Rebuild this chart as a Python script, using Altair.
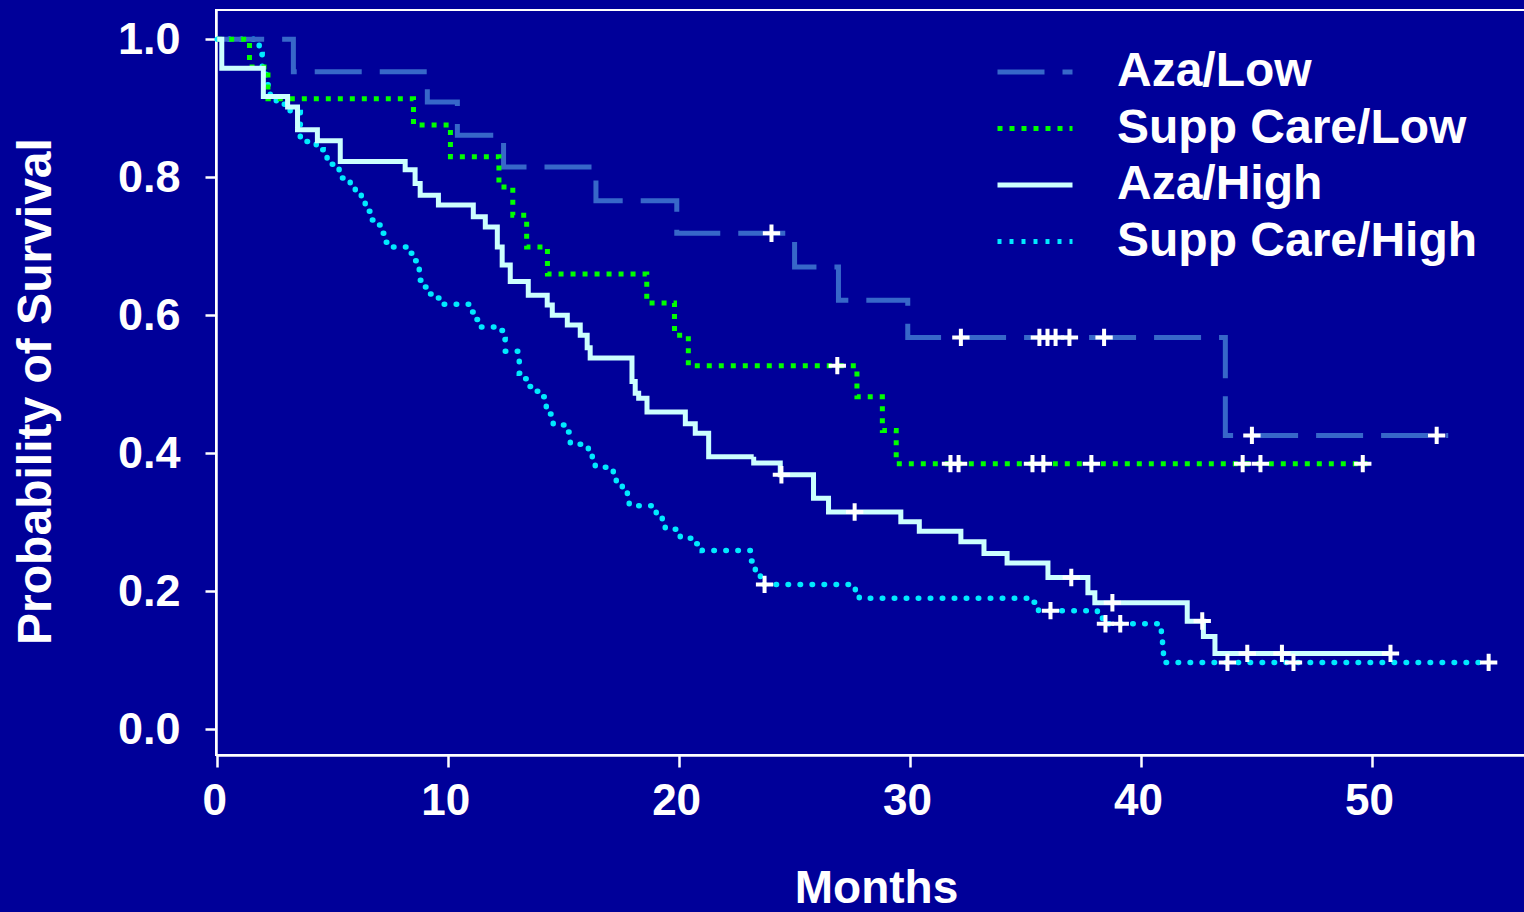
import altair as alt
import pandas as pd
import jinja2

# ---------------- data ----------------
series_names = ["Aza/Low", "Supp Care/Low", "Aza/High", "Supp Care/High"]
series_colors = ["#3767c9", "#00ff00", "#ccffff", "#00eaff"]
series_dashes = [[47, 18], [5, 7], [1, 0], [4, 8]]

aza_low_t = [0, 3.3, 9.1, 10.4, 12.4, 16.4, 19.9, 25.0, 26.9, 29.9, 43.65, 53.3]
aza_low_s = [1.0, 0.953, 0.909, 0.861, 0.815, 0.766, 0.719, 0.670, 0.622, 0.568, 0.426, 0.426]

supp_low_t = [0, 1.4, 2.2, 8.5, 10.1, 12.2, 12.8, 13.4, 14.3, 18.6, 19.8, 20.4, 27.7, 28.8, 29.4, 49.8]
supp_low_s = [1.0, 0.96, 0.914, 0.876, 0.83, 0.786, 0.745, 0.699, 0.66, 0.618, 0.571, 0.527,
              0.482, 0.433, 0.385, 0.385]

aza_high_t = [0, 0.2, 2.0, 3.05, 3.48, 4.34, 5.33, 8.14, 8.57, 8.79, 9.58, 11.09, 11.61, 12.13,
              12.34, 12.69, 13.47, 14.29, 14.51, 15.16, 15.72, 16.02, 16.15, 17.96, 18.10, 18.25,
              18.61, 20.27, 20.70, 21.28, 23.23, 24.38, 25.82, 26.47, 29.6, 30.4, 32.2, 33.2,
              34.2, 35.97, 37.7, 38.0, 42.0, 42.7, 43.2, 50.8]
aza_high_s = [1.0, 0.958, 0.917, 0.902, 0.869, 0.853, 0.823, 0.811, 0.791, 0.774, 0.760, 0.743,
              0.728, 0.699, 0.673, 0.649, 0.629, 0.615, 0.600, 0.586, 0.571, 0.553, 0.538, 0.504,
              0.487, 0.480, 0.460, 0.443, 0.429, 0.395, 0.386, 0.369, 0.335, 0.315, 0.301, 0.287,
              0.272, 0.255, 0.241, 0.220, 0.198, 0.1835, 0.1565, 0.1345, 0.11, 0.11]

supp_high_t = [0, 1.82, 1.95, 2.12, 2.30, 2.56, 3.16, 3.6, 4.29, 4.59, 4.76, 5.11, 5.28, 5.76,
               5.98, 6.24, 6.41, 6.63, 6.97, 7.10, 7.28, 7.54, 8.27, 8.45, 8.62, 8.75, 8.88,
               9.09, 9.44, 9.70, 10.91, 11.13, 11.35, 12.17, 12.39, 12.47, 13.04, 13.08, 13.21,
               13.43, 13.77, 14.12, 14.25, 14.38, 14.55, 15.2, 15.29, 16.07, 16.24, 16.37,
               17.15, 17.28, 17.54, 17.76, 17.84, 19.01, 19.27, 19.40, 20.05, 20.74, 21.0,
               23.13, 23.30, 23.52, 23.65, 27.63, 27.80, 35.21, 35.56, 38.11, 38.33, 40.88,
               40.93, 40.97, 55.1]
supp_high_s = [1.0, 0.978, 0.956, 0.934, 0.912, 0.906, 0.894, 0.852, 0.840, 0.832, 0.819, 0.813,
               0.799, 0.783, 0.776, 0.763, 0.751, 0.738, 0.731, 0.719, 0.706, 0.699, 0.690,
               0.679, 0.669, 0.651, 0.641, 0.631, 0.625, 0.616, 0.605, 0.594, 0.583, 0.578,
               0.565, 0.548, 0.534, 0.516, 0.508, 0.497, 0.490, 0.482, 0.467, 0.457, 0.441,
               0.431, 0.413, 0.406, 0.394, 0.380, 0.373, 0.358, 0.351, 0.341, 0.324, 0.313,
               0.305, 0.290, 0.277, 0.269, 0.259, 0.244, 0.231, 0.221, 0.210, 0.202, 0.190,
               0.184, 0.172, 0.168, 0.153, 0.138, 0.121, 0.097, 0.097]

# censored observations (+)
aza_low_cens_t = [24.0, 32.2, 35.6, 35.95, 36.3, 36.9, 38.4, 44.8, 52.8]
aza_low_cens_s = [0.719, 0.568, 0.568, 0.568, 0.568, 0.568, 0.568, 0.426, 0.426]
supp_low_cens_t = [26.85, 31.75, 32.1, 35.3, 35.77, 37.85, 44.4, 45.17, 49.6]
supp_low_cens_s = [0.527, 0.385, 0.385, 0.385, 0.385, 0.385, 0.385, 0.385, 0.385]
aza_high_cens_t = [24.43, 27.6, 36.98, 38.76, 42.65, 44.6, 46.1, 50.8]
aza_high_cens_s = [0.369, 0.315, 0.220, 0.1835, 0.157, 0.11, 0.11, 0.11]
supp_high_cens_t = [23.7, 36.08, 38.46, 39.1, 43.74, 46.6, 55.05]
supp_high_cens_s = [0.210, 0.172, 0.153, 0.153, 0.097, 0.097, 0.097]

x_ticks = [0, 10, 20, 30, 40, 50]
y_ticks = [0.0, 0.2, 0.4, 0.6, 0.8, 1.0]

# ---------------- tables ----------------
def table(name, t, s):
    return pd.DataFrame({"series": name, "t": t, "s": s})

lines3 = pd.concat([
    table("Aza/Low", aza_low_t, aza_low_s),
    table("Supp Care/Low", supp_low_t, supp_low_s),
    table("Aza/High", aza_high_t, aza_high_s),
], ignore_index=True)
line_cyan = table("Supp Care/High", supp_high_t, supp_high_s)
cens = pd.concat([
    table("Aza/Low", aza_low_cens_t, aza_low_cens_s),
    table("Supp Care/Low", supp_low_cens_t, supp_low_cens_s),
    table("Aza/High", aza_high_cens_t, aza_high_cens_s),
    table("Supp Care/High", supp_high_cens_t, supp_high_cens_s),
], ignore_index=True)

W, H = 1320, 745
xscale = alt.Scale(domain=[-0.05, 57.1], nice=False, zero=False)
yscale = alt.Scale(domain=[-0.0372, 1.0425], nice=False, zero=False)

x_axis = alt.Axis(values=x_ticks, format="d", labelFontSize=44, tickSize=12, labelPadding=12,
                  labelOffset=-3, titleFontSize=46, titlePadding=43, labelFlush=False, grid=False)
y_axis = alt.Axis(values=y_ticks, format=".1f", labelFontSize=45, tickSize=11, labelPadding=25,
                  titleFontSize=48, titlePadding=57, grid=False, titleY=381)

legend = alt.Legend(title=None, orient="none", legendX=795, legendY=38,
                    symbolType="M-2,0L2,0", symbolSize=1406.25, symbolStrokeWidth=5,
                    symbolOpacity=1, labelFontSize=48, labelFontWeight="bold",
                    labelColor="white", labelFont="Liberation Sans", labelOffset=58,
                    rowPadding=8.5, padding=0, labelLimit=600)

X = alt.X("t:Q", scale=xscale, axis=x_axis, title="Months")
Y = alt.Y("s:Q", scale=yscale, axis=y_axis, title="Probability of Survival")

cyan_layer = alt.Chart(line_cyan).mark_line(
    interpolate="step-after", strokeWidth=5.5, strokeCap="round",
    strokeDash=[0.5, 11.5], color=series_colors[3]
).encode(x=X, y=Y)

main_layer = alt.Chart(lines3).mark_line(
    interpolate="step-after", strokeWidth=5, strokeCap="butt"
).encode(
    x=X, y=Y,
    color=alt.Color("series:N", scale=alt.Scale(domain=series_names, range=series_colors),
                    legend=legend, sort=series_names),
    strokeDash=alt.StrokeDash("series:N", scale=alt.Scale(domain=series_names, range=series_dashes),
                              legend=legend, sort=series_names),
)

cens_layer = alt.Chart(cens).mark_point(
    shape="M-1,0L1,0M0,-1L0,1", size=300, filled=False, strokeWidth=4,
    color="white", opacity=1
).encode(x=X, y=Y)

chart = alt.layer(cyan_layer, main_layer, cens_layer).properties(
    width=W, height=H,
    autosize=alt.AutoSizeParams(type="none"),
    padding={"left": 208, "top": 2, "right": 0, "bottom": 170},
).configure(
    background="#000099", font="Liberation Sans"
).configure_view(
    stroke="white", strokeWidth=2
).configure_axis(
    domainColor="white", domainWidth=2.5, tickColor="white", tickWidth=2.5,
    labelColor="white", titleColor="white", labelFontWeight="bold", titleFontWeight="bold",
    labelFont="Liberation Sans", titleFont="Liberation Sans"
)

TEMPLATE = jinja2.Template("""<!DOCTYPE html>
<html>
<head>
  <meta charset="utf-8">
  <style>
    html { background: #000099; overflow: hidden; }
    body { background: #000099; margin: 8px; width: 1700px; }
    #{{ output_div }}, #{{ output_div }}.vega-embed { width: 1700px; overflow: visible; display: block; }
    #{{ output_div }} svg { max-width: none; overflow: visible; }
  </style>
  <script type="text/javascript" src="{{ base_url }}/vega@{{ vega_version }}"></script>
  <script type="text/javascript" src="{{ base_url }}/vega-lite@{{ vegalite_version }}"></script>
  <script type="text/javascript" src="{{ base_url }}/vega-embed@{{ vegaembed_version }}"></script>
</head>
<body>
  <div id="{{ output_div }}"></div>
  <script>
    var spec = {{ spec }};
    var embedOpt = {{ embed_options }};
    vegaEmbed("#{{ output_div }}", spec, embedOpt).catch(function (err) {
      document.getElementById("{{ output_div }}").innerHTML =
        '<pre style="color:white">' + err + '</pre>';
    });
  </script>
</body>
</html>
""")

chart.save("out.html", embed_options={"renderer": "svg", "actions": False}, template=TEMPLATE)
